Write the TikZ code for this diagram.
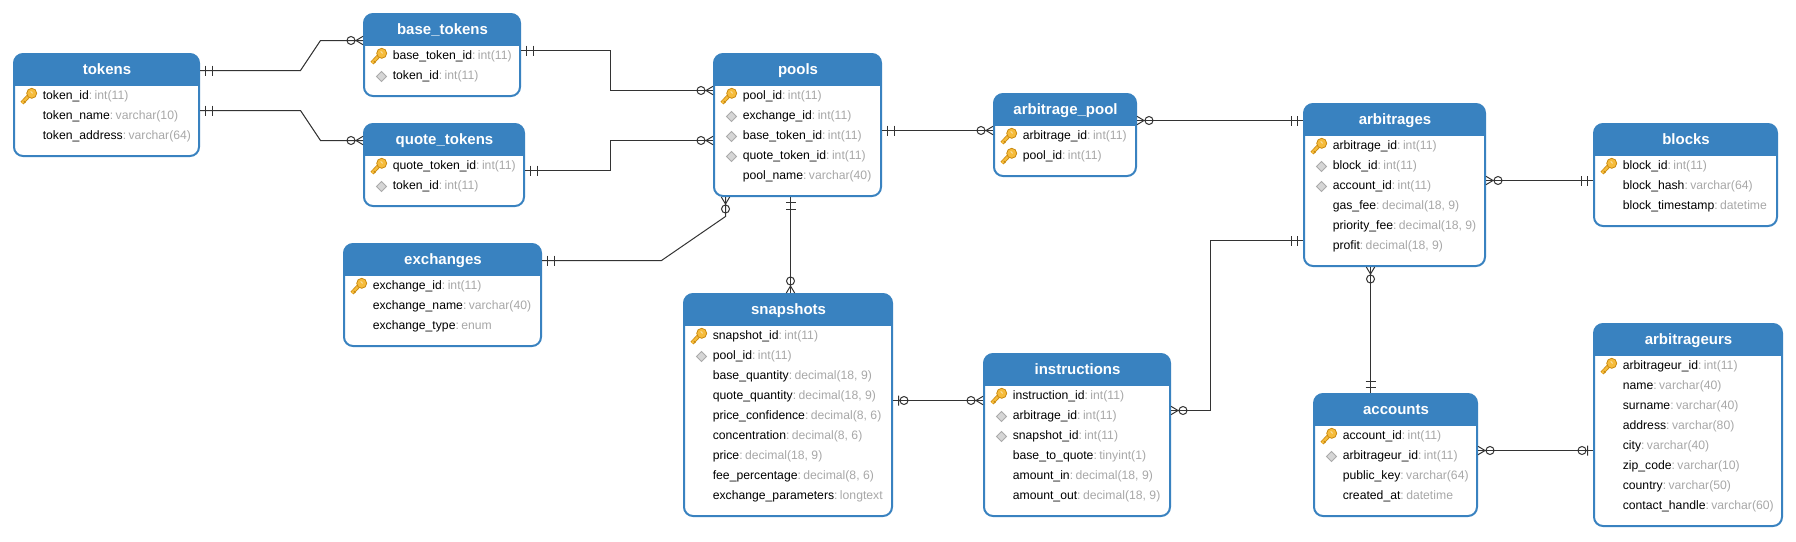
\documentclass[tikz,border=0pt]{standalone}
\usepackage{fontspec}
\setmainfont{Liberation Sans}
\definecolor{hdrblue}{HTML}{3982C0}
\definecolor{typegray}{HTML}{A8A8A8}
\definecolor{linedark}{HTML}{333333}
\definecolor{keyfill}{HTML}{F6BC3C}
\definecolor{keyline}{HTML}{C9890F}
\definecolor{dmdfill}{HTML}{D6D6D6}
\definecolor{dmdline}{HTML}{ABABAB}
\pgfdeclarearrow{name=erOO,
  setup code={\pgfarrowssettipend{0pt}\pgfarrowssetbackend{-13pt}\pgfarrowssetlineend{0pt}\pgfarrowssetvisualbackend{-13pt}\pgfarrowshullpoint{0pt}{5pt}\pgfarrowshullpoint{0pt}{-5pt}\pgfarrowshullpoint{-13pt}{5pt}\pgfarrowshullpoint{-13pt}{-5pt}},
  drawing code={\pgfsetdash{}{0pt}
    \pgfpathmoveto{\pgfpoint{-5.3pt}{-5pt}}\pgfpathlineto{\pgfpoint{-5.3pt}{5pt}}
    \pgfpathmoveto{\pgfpoint{-12pt}{-5pt}}\pgfpathlineto{\pgfpoint{-12pt}{5pt}}
    \pgfusepathqstroke}}
\pgfdeclarearrow{name=erZM,
  setup code={\pgfarrowssettipend{0pt}\pgfarrowssetbackend{-17pt}\pgfarrowssetlineend{0pt}\pgfarrowssetvisualbackend{-17pt}\pgfarrowshullpoint{0pt}{4.5pt}\pgfarrowshullpoint{0pt}{-4.5pt}\pgfarrowshullpoint{-17pt}{4.5pt}\pgfarrowshullpoint{-17pt}{-4.5pt}},
  drawing code={\pgfsetdash{}{0pt}
    \pgfpathmoveto{\pgfpoint{0pt}{4.2pt}}\pgfpathlineto{\pgfpoint{-7pt}{0pt}}\pgfpathlineto{\pgfpoint{0pt}{-4.2pt}}
    \pgfpathcircle{\pgfpoint{-12pt}{0pt}}{4pt}
    \pgfusepathqstroke}}
\pgfdeclarearrow{name=erZO,
  setup code={\pgfarrowssettipend{0pt}\pgfarrowssetbackend{-16pt}\pgfarrowssetlineend{0pt}\pgfarrowssetvisualbackend{-16pt}\pgfarrowshullpoint{0pt}{5pt}\pgfarrowshullpoint{0pt}{-5pt}\pgfarrowshullpoint{-16pt}{5pt}\pgfarrowshullpoint{-16pt}{-5pt}},
  drawing code={\pgfsetdash{}{0pt}
    \pgfpathmoveto{\pgfpoint{-5.5pt}{-5pt}}\pgfpathlineto{\pgfpoint{-5.5pt}{5pt}}
    \pgfpathcircle{\pgfpoint{-11pt}{0pt}}{4pt}
    \pgfusepathqstroke}}
\tikzset{
  tablebox/.style={draw=hdrblue,fill=white,line width=2pt,rounded corners=9pt,inner sep=0pt,
    path picture={\fill[hdrblue,sharp corners] ([xshift=-2pt,yshift=2pt]path picture bounding box.north west) rectangle ([xshift=2pt,yshift=-32pt]path picture bounding box.north east);}},
  titletext/.style={text=white,font=\fontsize{15}{17}\selectfont\bfseries,inner sep=0pt,anchor=base},
  fieldtext/.style={text=black,font=\fontsize{12.2}{14}\selectfont,inner sep=0pt,anchor=base west},
  erline/.style={draw=linedark,line width=1pt,line join=miter}
}
\newcommand\iconn[2]{}
\newcommand\iconk[2]{%
  \draw[keyline,line width=4pt] ({#1+9},{#2+4}) -- ({#1+17},{#2-4.5});
  \draw[keyfill,line width=2.4pt] ({#1+9},{#2+4}) -- ({#1+17},{#2-4.5});
  \draw[keyline,line width=1.2pt] ({#1+11},{#2+2.2}) -- ({#1+12.4},{#2+3.6});
  \filldraw[fill=keyfill,draw=keyline,line width=.8pt] ({#1+18.7},{#2-5.7}) circle (5pt);
  \draw[white!55!keyfill,line width=1pt] ({#1+17.7},{#2-7.6}) -- ({#1+19.6},{#2-5.6});
}
\newcommand\icond[2]{%
  \filldraw[fill=dmdfill,draw=dmdline,line width=.8pt] ({#1+18.5},{#2-7.5}) -- ({#1+23.5},{#2-2.5}) -- ({#1+18.5},{#2+2.5}) -- ({#1+13.5},{#2-2.5}) -- cycle;
}
\newcommand\ertable[7]{%
  \pgfmathsetmacro\Lv{#2}\pgfmathsetmacro\Rv{#3}\pgfmathsetmacro\Tv{#4}\pgfmathsetmacro\Bv{#5}%
  \node[tablebox,minimum width=#3pt-#2pt-2pt,minimum height=#5pt-#4pt-2pt] (#1) at ({(\Lv+\Rv)/2},{(\Tv+\Bv)/2}) {};
  \node[titletext] (#1-title) at ({(\Lv+\Rv)/2+.5},{\Tv+21}) {#6};
  \foreach \fkind/\fname/\ftype [count=\ci from 0] in {#7}{%
    \pgfmathsetmacro\Yv{\Tv+46+20*\ci}%
    \csname icon\fkind\endcsname{\Lv}{\Yv}
    \node[fieldtext] (#1-\ci) at ({\Lv+29.6},{\Yv}) {\fname{\color{typegray}:\hspace{2.4pt}\ftype}};
  }%
}
\begin{document}
\begin{tikzpicture}[x=1pt,y=-1pt]
\useasboundingbox (0,0) rectangle (1796,541);
\ertable{tokens}{13}{200}{53}{157}{tokens}{k/token\_id/int(11),n/token\_name/varchar(10),n/token\_address/varchar(64)}
\ertable{basetokens}{363}{521}{13}{97}{base\_tokens}{k/base\_token\_id/int(11),d/token\_id/int(11)}
\ertable{quotetokens}{363}{525}{123}{207}{quote\_tokens}{k/quote\_token\_id/int(11),d/token\_id/int(11)}
\ertable{exchanges}{343}{542}{243}{347}{exchanges}{k/exchange\_id/int(11),n/exchange\_name/varchar(40),n/exchange\_type/enum}
\ertable{pools}{713}{882}{53}{197}{pools}{k/pool\_id/int(11),d/exchange\_id/int(11),d/base\_token\_id/int(11),d/quote\_token\_id/int(11),n/pool\_name/varchar(40)}
\ertable{arbpool}{993}{1137}{93}{177}{arbitrage\_pool}{k/arbitrage\_id/int(11),k/pool\_id/int(11)}
\ertable{arbitrages}{1303}{1486}{103}{267}{arbitrages}{k/arbitrage\_id/int(11),d/block\_id/int(11),d/account\_id/int(11),n/gas\_fee/{decimal(18, 9)},n/priority\_fee/{decimal(18, 9)},n/profit/{decimal(18, 9)}}
\ertable{blocks}{1593}{1778}{123}{227}{blocks}{k/block\_id/int(11),n/block\_hash/varchar(64),n/block\_timestamp/datetime}
\ertable{snapshots}{683}{893}{293}{517}{snapshots}{k/snapshot\_id/int(11),d/pool\_id/int(11),n/base\_quantity/{decimal(18, 9)},n/quote\_quantity/{decimal(18, 9)},n/price\_confidence/{decimal(8, 6)},n/concentration/{decimal(8, 6)},n/price/{decimal(18, 9)},n/fee\_percentage/{decimal(8, 6)},n/exchange\_parameters/longtext}
\ertable{instructions}{983}{1171}{353}{517}{instructions}{k/instruction\_id/int(11),d/arbitrage\_id/int(11),d/snapshot\_id/int(11),n/base\_to\_quote/tinyint(1),n/amount\_in/{decimal(18, 9)},n/amount\_out/{decimal(18, 9)}}
\ertable{accounts}{1313}{1478}{393}{517}{accounts}{k/account\_id/int(11),d/arbitrageur\_id/int(11),n/public\_key/varchar(64),n/created\_at/datetime}
\ertable{arbitrageurs}{1593}{1783}{323}{527}{arbitrageurs}{k/arbitrageur\_id/int(11),n/name/varchar(40),n/surname/varchar(40),n/address/varchar(80),n/city/varchar(40),n/zip\_code/varchar(10),n/country/varchar(50),n/contact\_handle/varchar(60)}
% connectors
\draw[erline,{erOO}-{erZM}] (tokens.east |- 0,70.5) -- (300.5,70.5) -- (320.5,40.5) -- (basetokens.west |- 0,40.5);
\draw[erline,{erOO}-{erZM}] (tokens.east |- 0,110.5) -- (300.5,110.5) -- (320.5,140.5) -- (quotetokens.west |- 0,140.5);
\draw[erline,{erOO}-{erZM}] (basetokens.east |- 0,50.5) -- (610.5,50.5) |- (pools.west |- 0,90.5);
\draw[erline,{erOO}-{erZM}] (quotetokens.east |- 0,170.5) -- (610.5,170.5) |- (pools.west |- 0,140.5);
\draw[erline,{erOO}-{erZM}] (exchanges.east |- 0,260.5) -- (661.5,260.5) -- (725.5,216.5) -- (725.5,0 |- pools.south);
\draw[erline,{erOO}-{erZM}] (pools.east |- 0,130.5) -- (arbpool.west |- 0,130.5);
\draw[erline,{erZM}-{erOO}] (arbpool.east |- 0,120.5) -- (arbitrages.west |- 0,120.5);
\draw[erline,{erOO}-{erZM}] (790.5,0 |- pools.south) -- (790.5,0 |- snapshots.north);
\draw[erline,{erZO}-{erZM}] (snapshots.east |- 0,400.5) -- (instructions.west |- 0,400.5);
\draw[erline,{erZM}-{erOO}] (instructions.east |- 0,410.5) -- (1210.5,410.5) |- (arbitrages.west |- 0,240.5);
\draw[erline,{erZM}-{erOO}] (arbitrages.east |- 0,180.5) -- (blocks.west |- 0,180.5);
\draw[erline,{erZM}-{erOO}] (1370.5,0 |- arbitrages.south) -- (1370.5,0 |- accounts.north);
\draw[erline,{erZM}-{erZO}] (accounts.east |- 0,450.5) -- (arbitrageurs.west |- 0,450.5);
\end{tikzpicture}
\end{document}
